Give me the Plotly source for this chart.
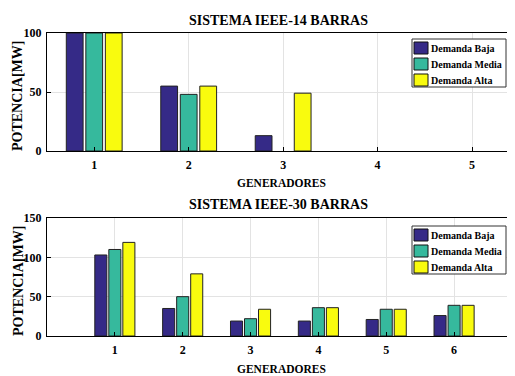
import plotly.graph_objects as go

series = ["Demanda Baja", "Demanda Media", "Demanda Alta"]
colors = ["#352a87", "#36b99d", "#f9fb0e"]

gen14 = [1, 2, 3, 4, 5]
baja14 = [100, 55, 13, 0, 0]
media14 = [100, 48, 0, 0, 0]
alta14 = [100, 55, 49, 0, 0]

gen30 = [1, 2, 3, 4, 5, 6]
baja30 = [103, 35, 19, 19, 21, 26]
media30 = [110, 50, 22, 36, 34, 39]
alta30 = [119, 79, 34, 36, 34, 39]

# page offset of the figure inside the browser window (body margin)
OFF = 8
W, H = 515 - 2 * OFF, 376 - OFF
FONT = "Times New Roman, Liberation Serif, serif"

def fx(vx):
    return (vx - OFF) / W

def fy(vy):
    return 1 - (vy - OFF) / H

def edge_widths(vals):
    return [1 if v else 0 for v in vals]

fig = go.Figure()
for name, col, vals in zip(series, colors, [baja14, media14, alta14]):
    fig.add_trace(go.Bar(x=gen14, y=vals, name=name, showlegend=False,
                         marker=dict(color=col, line=dict(color="#222222", width=edge_widths(vals))),
                         xaxis="x", yaxis="y"))
for name, col, vals in zip(series, colors, [baja30, media30, alta30]):
    fig.add_trace(go.Bar(x=gen30, y=vals, name=name, showlegend=False,
                         marker=dict(color=col, line=dict(color="#222222", width=edge_widths(vals))),
                         xaxis="x2", yaxis="y2"))

ax_common = dict(showline=True, linecolor="black", linewidth=1, ticks="inside", ticklen=4,
                 tickcolor="black", showgrid=True, gridcolor="#e3e3e3", zeroline=False,
                 tickfont=dict(family=FONT, size=12, color="black", weight="bold"))
xax = dict(ticklabelstandoff=3, mirror=True, **ax_common)
yax = dict(ticklabelstandoff=2, **ax_common)

fig.update_layout(
    width=W, height=H, margin=dict(l=0, r=0, t=0, b=0, autoexpand=False),
    plot_bgcolor="white", paper_bgcolor="white",
    barmode="group", bargap=0.38, bargroupgap=0.14,
    font=dict(family=FONT, color="black"),
    showlegend=False,
    xaxis=dict(domain=[fx(47), 1], range=[0.5, 5.37], tickvals=gen14, anchor="y", **xax),
    yaxis=dict(domain=[fy(151), fy(33)], range=[0, 100], tickvals=[0, 50, 100], anchor="x", **yax),
    xaxis2=dict(domain=[fx(47), 1], range=[0, 6.78], tickvals=gen30, anchor="y2", **xax),
    yaxis2=dict(domain=[fy(336), fy(218)], range=[0, 150], tickvals=[0, 50, 100, 150], anchor="x2", **yax),
)

ann = []
shapes = []

def text(x, y, s, size, angle=0, xanchor="center"):
    ann.append(dict(x=fx(x), y=fy(y), xref="paper", yref="paper", text=s, showarrow=False,
                    textangle=angle, xanchor=xanchor, yanchor="middle",
                    font=dict(family=FONT, size=size, color="black", weight="bold")))

def legend_box(top):
    left, right = 412, 506
    shapes.append(dict(type="rect", xref="paper", yref="paper", layer="above",
                       x0=fx(left), x1=fx(right), y0=fy(top + 48), y1=fy(top),
                       fillcolor="white", line=dict(color="#333333", width=1)))
    for i, (name, col) in enumerate(zip(series, colors)):
        cy = top + 9 + 16 * i
        shapes.append(dict(type="rect", xref="paper", yref="paper", layer="above",
                           x0=fx(left + 2), x1=fx(left + 16), y0=fy(cy + 6), y1=fy(cy - 6),
                           fillcolor=col, line=dict(color="#111111", width=1)))
        text(left + 17, cy, name, 10, xanchor="left")

text(278, 21, "SISTEMA IEEE-14 BARRAS", 14)
text(281, 183, "GENERADORES", 11.5)
text(18, 96, "POTENCIA[MW]", 14, -90)
text(278, 204, "SISTEMA IEEE-30 BARRAS", 14)
text(281, 369, "GENERADORES", 11.5)
text(18, 281, "POTENCIA[MW]", 14, -90)
legend_box(39)
legend_box(226)

fig.update_layout(annotations=ann, shapes=shapes)

fig.write_html("out.html")
